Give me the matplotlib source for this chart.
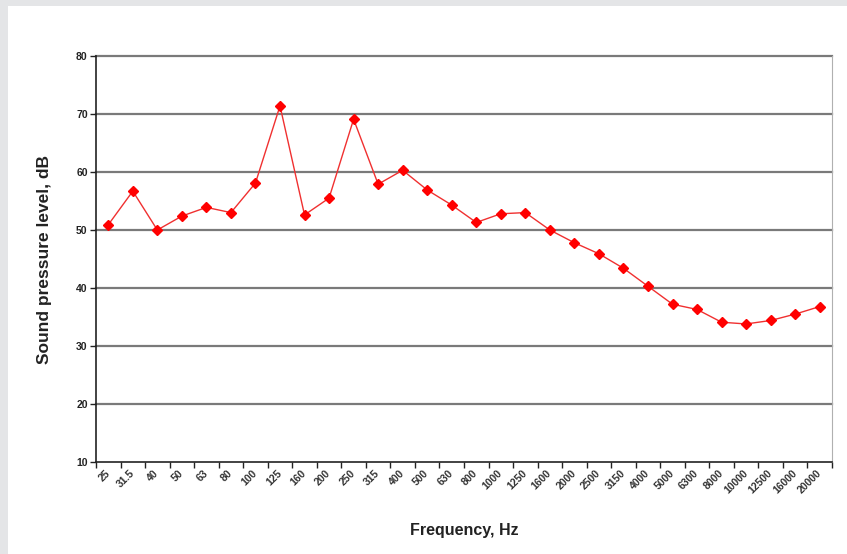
import matplotlib.pyplot as plt
import numpy as np
from matplotlib.patches import Rectangle

# third-octave band centre frequencies
freqs = ['25', '31.5', '40', '50', '63', '80', '100', '125', '160', '200',
         '250', '315', '400', '500', '630', '800', '1000', '1250', '1600', '2000',
         '2500', '3150', '4000', '5000', '6300', '8000', '10000', '12500', '16000', '20000']
# sound pressure level, dB
spl = [50.9, 56.7, 50.0, 52.4, 53.9, 53.0, 58.1, 71.4, 52.6, 55.5,
       69.1, 57.9, 60.3, 56.9, 54.3, 51.3, 52.8, 53.0, 50.0, 47.8,
       45.9, 43.4, 40.3, 37.2, 36.3, 34.1, 33.8, 34.4, 35.5, 36.8]
yticks = [10, 20, 30, 40, 50, 60, 70, 80]

plt.rcParams['font.family'] = ['Liberation Sans', 'DejaVu Sans']

fig = plt.figure(figsize=(8.47, 5.54), dpi=100)
fig.patch.set_facecolor('#e4e5e7')
# white panel inside the grey frame
fig.patches.append(Rectangle((8 / 847, 0), 1, 1 - 6 / 554, transform=fig.transFigure,
                             facecolor='white', edgecolor='none', zorder=-10))

ax = fig.add_axes([96 / 847, 92 / 554, 736 / 847, 406 / 554])
ax.set_facecolor('white')

x = np.arange(len(freqs))
ax.plot(x, spl, color='#f03030', linewidth=1.0, marker='D', markersize=5,
        markerfacecolor='#ff0000', markeredgecolor='#ff0000', zorder=3)

ax.set_xlim(-0.5, len(freqs) - 0.5)
ax.set_ylim(10, 80)
ax.set_yticks(yticks)
ax.set_yticklabels([str(v) for v in yticks], fontsize=7.5, fontweight='bold', color='#222222')
for v in yticks[1:]:
    ax.axhline(v, color='#7a7a7a', linewidth=1.6, zorder=1, clip_on=False)

ax.set_xticks(x)
ax.set_xticklabels(freqs, rotation=45, ha='right', va='center', rotation_mode='anchor',
                   fontsize=7.5, fontweight='bold', color='#333333')
ax.set_xticks(np.arange(len(freqs) + 1) - 0.5, minor=True)
ax.tick_params(axis='x', which='major', length=0, pad=7)
ax.tick_params(axis='x', which='minor', length=4, width=1, color='#222222', direction='out')
ax.tick_params(axis='y', length=4, width=1, color='#222222', direction='out', pad=2)

ax.spines['left'].set_color('#222222')
ax.spines['left'].set_linewidth(1.2)
ax.spines['bottom'].set_color('#222222')
ax.spines['bottom'].set_linewidth(1.2)
ax.spines['right'].set_color('#b0b0b0')
ax.spines['top'].set_visible(False)

ax.set_xlabel('Frequency, Hz', fontsize=11.5, fontweight='bold', color='#222222')
ax.set_ylabel('Sound pressure level, dB', fontsize=12.5, fontweight='bold', color='#222222')
ax.xaxis.set_label_coords(0.5, -0.15)
ax.yaxis.set_label_coords(-0.06, 0.5)

plt.savefig('out.png', dpi=100, facecolor=fig.get_facecolor())
